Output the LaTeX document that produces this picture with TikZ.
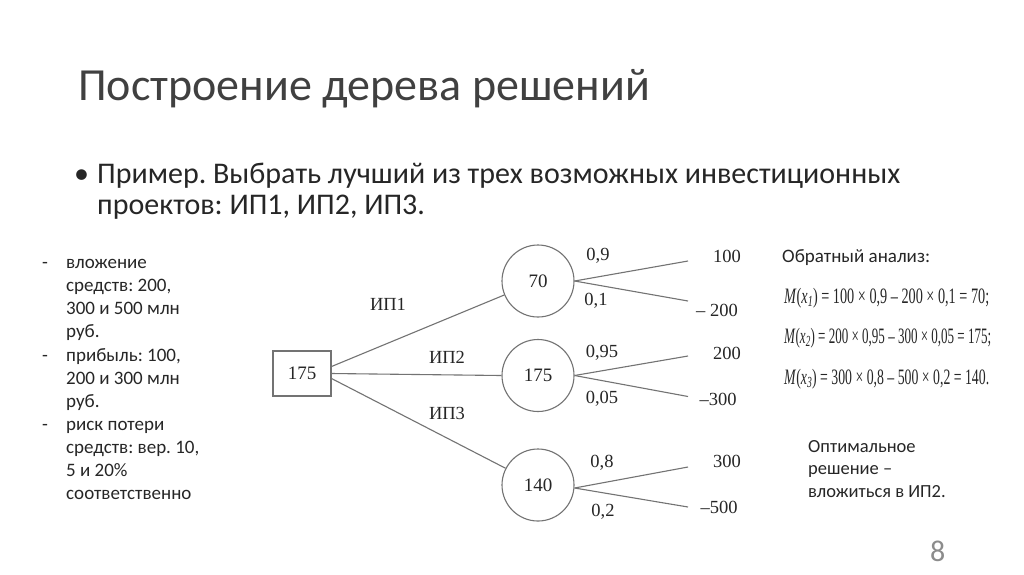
\documentclass[tikz,border=0pt]{standalone}
\usepackage{fontspec}
\usepackage{graphicx}
\setmainfont{Carlito}
\newfontfamily\treefont{Liberation Serif}
\usetikzlibrary{calc}
\newcommand{\fitform}[2]{\resizebox{#1}{\height}{#2}}
\tikzset{
  txt/.style={anchor=base west, inner sep=0, text=black!85},
  tree/.style={font=\treefont\fontsize{18.5}{18.5}\selectfont, text=black!85, inner sep=0},
  branch/.style={draw=black!55, line width=1.1pt},
  chance/.style={circle, draw=black!55, line width=1.1pt, minimum size=72pt, inner sep=0, font=\treefont\fontsize{19}{19}\selectfont, text=black!85},
  decision/.style={rectangle, draw=black!55, line width=1.1pt, minimum width=58pt, minimum height=45pt, inner sep=0, font=\treefont\fontsize{19}{19}\selectfont, text=black!85},
  form/.style={anchor=base west, inner sep=0, text=black!85, font=\treefont\fontsize{22}{22}\selectfont},
}
\begin{document}
\frenchspacing
\begin{tikzpicture}[x=1pt,y=-1pt]
\useasboundingbox (0,0) rectangle (1024,574);
\fill[white] (0,0) rectangle (1024,574);

% title
\node[txt, font=\fontsize{46}{46}\selectfont, text=black!75] (title) at (78,100) {Построение дерева решений};

% bullet
\node[txt, font=\fontsize{30}{30}\selectfont] (bul) at (74,183) {•};
\node[txt, font=\fontsize{30}{30}\selectfont] (b1) at (97,183) {Пример. Выбрать лучший из трех возможных инвестиционных};
\node[txt, font=\fontsize{30}{30}\selectfont] (b2) at (97,214) {проектов: ИП1, ИП2, ИП3.};

% left list
\begin{scope}[every node/.style={txt, font=\fontsize{19}{19}\selectfont}]
\node (d1) at (42,268) {-};
\node (d2) at (42,361) {-};
\node (d3) at (42,430) {-};
\node (l1) at (66,268) {вложение};
\node (l2) at (66,291) {средств: 200,};
\node (l3) at (66,314) {300 и 500 млн};
\node (l4) at (66,337) {руб.};
\node (l5) at (66,361) {прибыль: 100,};
\node (l6) at (66,384) {200 и 300 млн};
\node (l7) at (66,407) {руб.};
\node (l8) at (66,430) {риск потери};
\node (l9) at (66,453) {средств: вер. 10,};
\node (l10) at (66,476) {5 и 20\%};
\node (l11) at (66,499) {соответственно};
\end{scope}

% tree
\node[decision] (root) at (302,373.5) {175};
\node[chance] (c1) at (538,281) {70};
\node[chance] (c2) at (538,375.5) {175};
\node[chance] (c3) at (538,485) {140};

\coordinate (e1a) at (688,261);
\coordinate (e1b) at (688,301);
\coordinate (e2a) at (688,356);
\coordinate (e2b) at (688,396.5);
\coordinate (e3a) at (688,467);
\coordinate (e3b) at (688,507);

\draw[branch] ([yshift=7pt]root.east) -- (c1);
\draw[branch] (root.east) -- (c2.west);
\draw[branch] ([yshift=-5pt]root.east) -- (c3);

\draw[branch] (c1.east) -- (e1a);
\draw[branch] (c1.east) -- (e1b);
\draw[branch] (c2.east) -- (e2a);
\draw[branch] (c2.east) -- (e2b);
\draw[branch] ([yshift=-3pt]c3.east) -- (e3a);
\draw[branch] ([yshift=-3pt]c3.east) -- (e3b);

\node[tree] (p1a) at (598,256) {0,9};
\node[tree] (p1b) at (596,301) {0,1};
\node[tree] (p2a) at (602,352.5) {0,95};
\node[tree] (p2b) at (602,398.5) {0,05};
\node[tree] (p3a) at (602,463) {0,8};
\node[tree] (p3b) at (603,511.5) {0,2};

\node[tree] (v1a) at (727,256) {100};
\node[tree] (v1b) at (717,310) {– 200};
\node[tree] (v2a) at (727,353) {200};
\node[tree] (v2b) at (718,399) {–300};
\node[tree] (v3a) at (727,461) {300};
\node[tree] (v3b) at (719,507) {–500};

\node[tree] (ip1) at (388,304) {ИП1};
\node[tree] (ip2) at (447,357) {ИП2};
\node[tree] (ip3) at (447,413) {ИП3};

% right side
\node[txt, font=\fontsize{19}{19}\selectfont] (ba) at (782,262) {Обратный анализ:};
\node[form] (f1) at (784,303) {\fitform{205pt}{\textit{M}(\textit{x}\textsubscript{\textit{1}}) = 100 × 0,9 – 200 × 0,1 = 70;}};
\node[form] (f2) at (784,343) {\fitform{207pt}{\textit{M}(\textit{x}\textsubscript{\textit{2}}) = 200 × 0,95 – 300 × 0,05 = 175;}};
\node[form] (f3) at (784,384) {\fitform{205pt}{\textit{M}(\textit{x}\textsubscript{\textit{3}}) = 300 × 0,8 – 500 × 0,2 = 140.}};

\node[txt, font=\fontsize{18.5}{18.5}\selectfont] (o1) at (808,452) {Оптимальное};
\node[txt, font=\fontsize{18.5}{18.5}\selectfont] (o2) at (808,474) {решение –};
\node[txt, font=\fontsize{18.5}{18.5}\selectfont] (o3) at (808,497) {вложиться в ИП2.};

\node[txt, font=\fontsize{30}{30}\selectfont, text=black!45] (pg) at (930,561) {8};
\end{tikzpicture}
\end{document}
